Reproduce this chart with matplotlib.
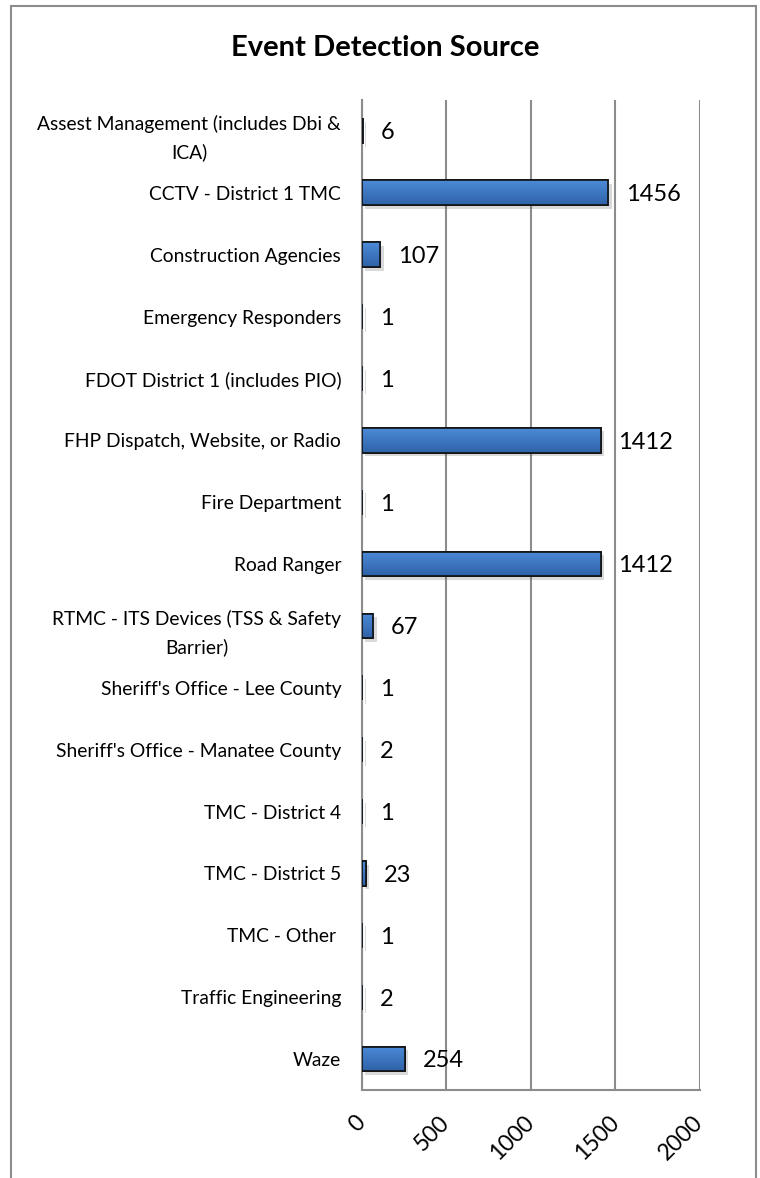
import numpy as np
import matplotlib
matplotlib.use("Agg")
import matplotlib.pyplot as plt
from matplotlib.patches import Rectangle
import matplotlib.patheffects as pe

plt.rcParams['font.family'] = ['Lato', 'DejaVu Sans']

#### DATA ####
sources = [
    "Assest Management (includes Dbi &\nICA)",
    "CCTV - District 1 TMC",
    "Construction Agencies",
    "Emergency Responders",
    "FDOT District 1 (includes PIO)",
    "FHP Dispatch, Website, or Radio",
    "Fire Department",
    "Road Ranger",
    "RTMC - ITS Devices (TSS & Safety\nBarrier)",
    "Sheriff's Office - Lee County",
    "Sheriff's Office - Manatee County",
    "TMC - District 4",
    "TMC - District 5",
    "TMC - Other ",
    "Traffic Engineering",
    "Waze",
]
counts = [6, 1456, 107, 1, 1, 1412, 1, 1412, 67, 1, 2, 1, 23, 1, 2, 254]
x_ticks = [0, 500, 1000, 1500, 2000]

#### FIGURE ####
fig = plt.figure(figsize=(7.6, 11.78), dpi=100)
ax = fig.add_axes([0.4763, 0.0747, 0.4447, 0.8404])

# outer chart frame (runs off the bottom edge like the screenshot)
fig.patches.append(Rectangle((11 / 760, -0.05), (756 - 11) / 760, 1.05 - 6 / 1178,
                             transform=fig.transFigure, fill=False,
                             edgecolor='#8c8c8c', linewidth=1.5))

ypos = np.arange(len(sources))
bars = ax.barh(ypos, counts, height=0.4, color='#3a72bf', edgecolor='#111111',
               linewidth=1.2, zorder=3)

# soft drop shadow + vertical gradient like the Excel bars
grad = np.linspace(0, 1, 64).reshape(-1, 1)
cmap = matplotlib.colors.LinearSegmentedColormap.from_list('g', ['#4c8ad8', '#2f62a8'])
for b in bars:
    b.set_path_effects([pe.SimplePatchShadow(offset=(2.5, -2.5), alpha=0.22, shadow_rgbFace='#555555'),
                        pe.Normal()])
    x0, y0 = b.get_x(), b.get_y()
    w, h = b.get_width(), b.get_height()
    im = ax.imshow(grad, extent=[x0, x0 + w, y0 + h, y0], aspect='auto', cmap=cmap,
                   zorder=3.5, interpolation='bilinear')
    im.set_clip_path(b)
    ax.add_patch(Rectangle((x0, y0), w, h, fill=False, edgecolor='#111111',
                           linewidth=1.2, zorder=4))

for y, v in zip(ypos, counts):
    ax.text(v + 105, y + 0.03, str(v), va='center', ha='left', fontsize=17, color='black', zorder=5)

ax.set_xlim(0, 2000)
ax.set_ylim(len(sources) - 0.5, -0.5)
ax.set_xticks(x_ticks)
ax.set_xticklabels([str(t) for t in x_ticks], rotation=45, ha='right', va='center',
                   rotation_mode='anchor', fontsize=16.5)
ax.set_yticks(ypos)
ax.set_yticklabels(sources, fontsize=13.9)
for lab in ax.get_yticklabels():
    lab.set_multialignment('center')
    lab.set_linespacing(1.7)

ax.tick_params(axis='both', length=0)
ax.tick_params(axis='y', pad=15)
ax.tick_params(axis='x', pad=21)
ax.xaxis.grid(True, color='#8c8c8c', linewidth=1.5, zorder=0)
ax.set_axisbelow(True)
for s in ['top', 'right']:
    ax.spines[s].set_visible(False)
for s in ['left', 'bottom']:
    ax.spines[s].set_color('#8c8c8c')
    ax.spines[s].set_linewidth(1.5)

fig.text(385 / 760, 1 - 48 / 1178, "Event Detection Source", ha='center', va='center',
         fontsize=21, fontweight='bold')

fig.savefig('out.png', dpi=100)
